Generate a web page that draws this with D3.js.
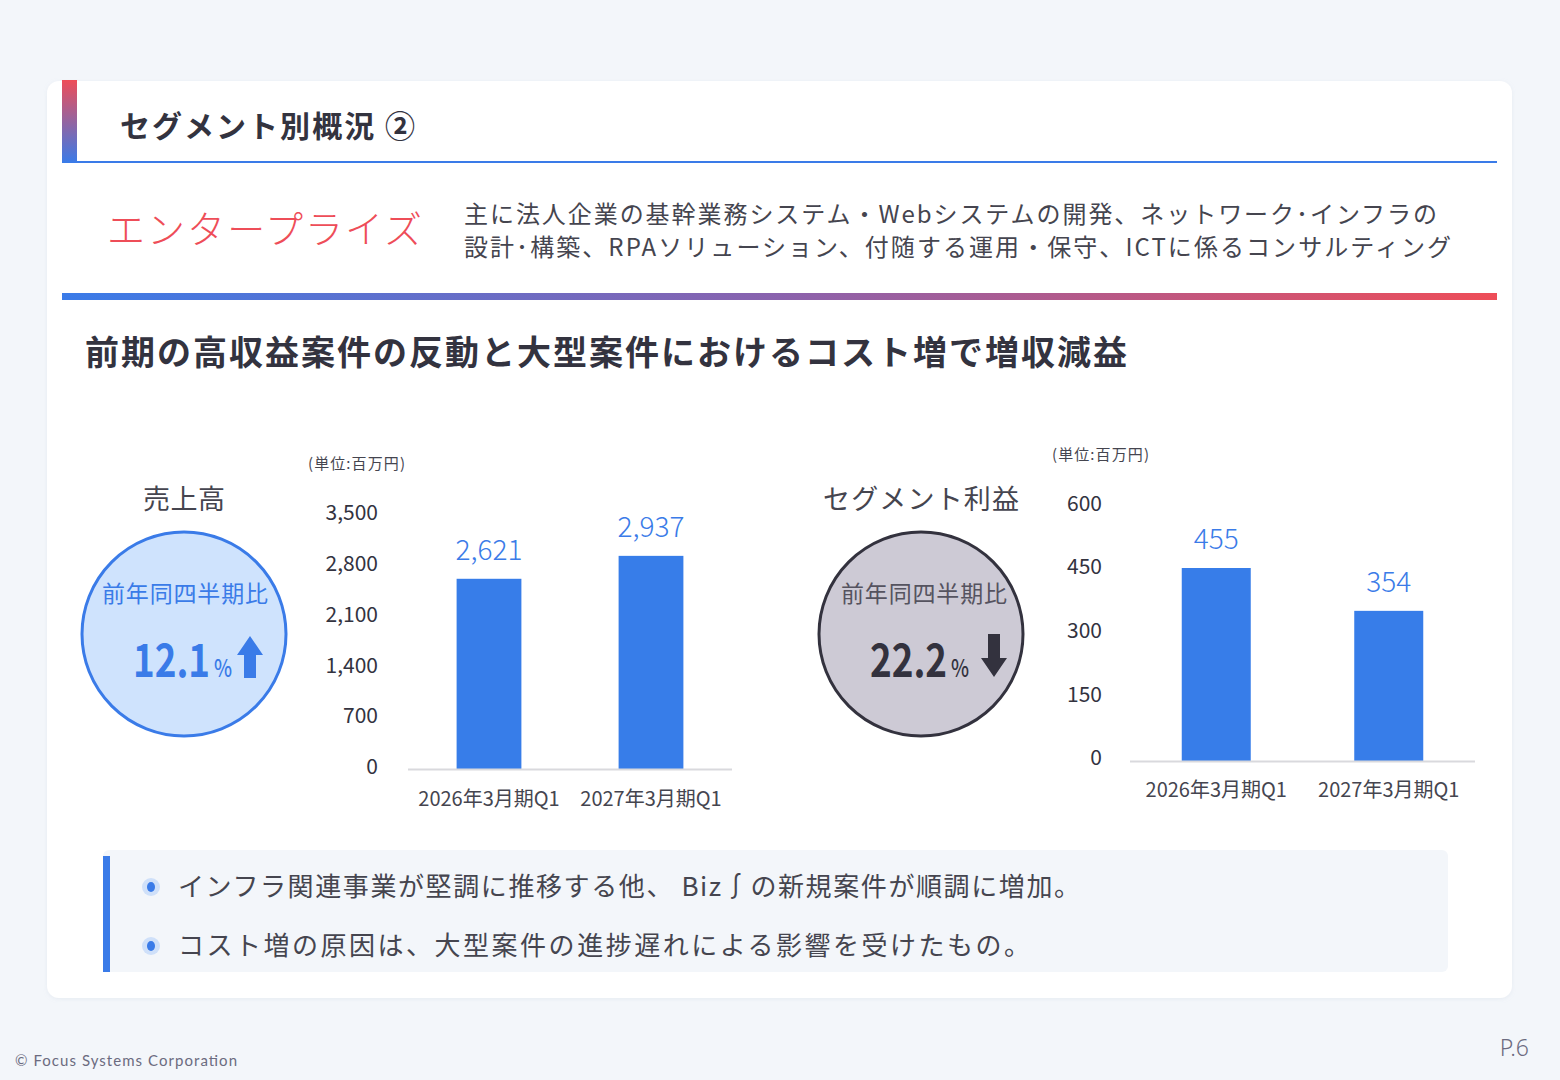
<!DOCTYPE html>
<html><head><meta charset="utf-8">
<script src="https://cdn.jsdelivr.net/npm/d3@7"></script>
<style>
html,body{margin:0;padding:0;background:#f3f6fa;}
svg{display:block;font-family:"Noto Sans CJK JP","Noto Sans",sans-serif;}
</style></head>
<body>
<svg id="c" width="1560" height="1080"></svg>
<script>
// ---- data ----
const categories = ["2026年3月期Q1", "2027年3月期Q1"];
const salesValues = [2621, 2937];
const salesTicks = [0, 700, 1400, 2100, 2800, 3500];
const profitValues = [455, 354];
const profitTicks = [0, 150, 300, 450, 600];
const salesChange = "12.1";
const profitChange = "22.2";
const descLines = [
  "主に法人企業の基幹業務システム・Webシステムの開発、ネットワーク･インフラの",
  "設計･構築、RPAソリューション、付随する運用・保守、ICTに係るコンサルティング"
];
const bullets = [
  "インフラ関連事業が堅調に推移する他、 Biz∫の新規案件が順調に増加。",
  "コスト増の原因は、大型案件の進捗遅れによる影響を受けたもの。"
];

const svg = d3.select("#c");
const defs = svg.append("defs");
const gv = defs.append("linearGradient").attr("id","gv").attr("x1",0).attr("y1",0).attr("x2",0).attr("y2",1);
gv.append("stop").attr("offset","0%").attr("stop-color","#ee4d58");
gv.append("stop").attr("offset","100%").attr("stop-color","#3a7be8");
const gh = defs.append("linearGradient").attr("id","gh").attr("x1",0).attr("y1",0).attr("x2",1).attr("y2",0);
gh.append("stop").attr("offset","0%").attr("stop-color","#3a7be8");
gh.append("stop").attr("offset","50%").attr("stop-color","#8a62ad");
gh.append("stop").attr("offset","100%").attr("stop-color","#ee4d58");
const sh = defs.append("filter").attr("id","sh").attr("x","-5%").attr("y","-5%").attr("width","110%").attr("height","110%");
sh.append("feDropShadow").attr("dx",0).attr("dy",1).attr("stdDeviation",2).attr("flood-color","#9aa8c0").attr("flood-opacity",0.15);

svg.append("rect").attr("width",1560).attr("height",1080).attr("fill","#f3f6fa");
// card
svg.append("rect").attr("x",47).attr("y",81).attr("width",1465).attr("height",917).attr("rx",12).attr("fill","#ffffff").attr("filter","url(#sh)");

// header
svg.append("rect").attr("x",62).attr("y",80).attr("width",15).attr("height",83).attr("fill","url(#gv)");
svg.append("rect").attr("x",62).attr("y",161).attr("width",1435).attr("height",2).attr("fill","#3a7be8");
svg.append("text").attr("x",120).attr("y",137).attr("font-size",30).attr("font-weight",700)
  .attr("fill","#33333f").attr("textLength",295).attr("lengthAdjust","spacing").text("セグメント別概況 ②");

// segment
svg.append("text").attr("x",107).attr("y",243).attr("font-size",38).attr("font-weight",300)
  .attr("fill","#ee4d58").attr("textLength",315).attr("lengthAdjust","spacing").text("エンタープライズ");
svg.selectAll("text.desc").data(descLines).join("text").attr("class","desc")
  .attr("x",464).attr("y",(d,i)=>223+i*33).attr("font-size",24).attr("fill","#45454f")
  .attr("textLength",(d,i)=>i===0?973:987).attr("lengthAdjust","spacing").text(d=>d);

svg.append("rect").attr("x",62).attr("y",293).attr("width",1435).attr("height",7).attr("fill","url(#gh)");

svg.append("text").attr("x",85).attr("y",365).attr("font-size",34).attr("font-weight",700)
  .attr("fill","#33333f").attr("textLength",1042).attr("lengthAdjust","spacing")
  .text("前期の高収益案件の反動と大型案件におけるコスト増で増収減益");

// ---- charts ----
function bubble(o){
  svg.append("text").attr("x",o.cx).attr("y",o.titleY).attr("text-anchor","middle").attr("font-size",27)
    .attr("fill","#45454f").attr("textLength",o.titleLen).attr("lengthAdjust","spacing").text(o.title);
  svg.append("circle").attr("cx",o.cx).attr("cy",634).attr("r",102).attr("fill",o.fill)
    .attr("stroke",o.stroke).attr("stroke-width",3);
  svg.append("text").attr("x",o.labelX).attr("y",602).attr("text-anchor","middle").attr("font-size",23)
    .attr("fill",o.labelColor).attr("textLength",166).attr("lengthAdjust","spacing").text("前年同四半期比");
  const t = svg.append("g").attr("transform",`translate(${o.numX},677) scale(${o.sx},1)`)
    .append("text").attr("x",0).attr("y",0).attr("fill",o.numColor).attr("font-weight",700);
  t.append("tspan").attr("font-size",46).text(o.value);
  t.append("tspan").attr("font-size",24).attr("font-weight",500).attr("dx",5).text("%");
  const ax = o.arrowX;
  if(o.up){
    svg.append("path").attr("fill",o.numColor)
      .attr("d",`M${ax},636 L${ax+13},655 L${ax+6},655 L${ax+6},678 L${ax-6},678 L${ax-6},655 L${ax-13},655 Z`);
  } else {
    svg.append("path").attr("fill",o.numColor)
      .attr("d",`M${ax},677 L${ax+13},658 L${ax+6},658 L${ax+6},634 L${ax-6},634 L${ax-6},658 L${ax-13},658 Z`);
  }
}

function barChart(o){
  const x = d3.scaleBand().domain(categories).range([o.x0,o.x1]).paddingInner(0.6).paddingOuter(0.3);
  const y = d3.scaleLinear().domain([0,o.max]).range([o.y0,o.yTop]);
  const g = svg.append("g");
  g.append("text").attr("x",o.unitX).attr("y",o.unitY).attr("font-size",15).attr("fill","#45454f")
    .attr("textLength",97).attr("lengthAdjust","spacing").text("(単位:百万円)");
  const yAxis = d3.axisLeft(y).tickValues(o.ticks).tickSize(0).tickPadding(0).tickFormat(d3.format(","));
  const ya = g.append("g").attr("transform",`translate(${o.labelX},${o.labelDy})`).call(yAxis);
  ya.select(".domain").remove();
  ya.selectAll("text").attr("font-size",21).attr("fill","#33333f").attr("font-family","'Noto Sans CJK JP',sans-serif");
  g.selectAll("rect.bar").data(o.values).join("rect").attr("class","bar")
    .attr("x",(d,i)=>x(categories[i])).attr("width",x.bandwidth())
    .attr("y",d=>y(d)).attr("height",d=>o.y0-y(d)).attr("fill","#377de9");
  g.append("line").attr("x1",o.x0).attr("x2",o.x1).attr("y1",o.y0+0.5).attr("y2",o.y0+0.5)
    .attr("stroke","#d9d9dd").attr("stroke-width",2);
  g.selectAll("text.val").data(o.values).join("text").attr("class","val")
    .attr("x",(d,i)=>x(categories[i])+x.bandwidth()/2).attr("y",d=>y(d)-19)
    .attr("text-anchor","middle").attr("font-size",28).attr("font-weight",300).attr("fill","#3a7be8").text(d=>d3.format(",")(d));
  const xAxis = d3.axisBottom(x).tickSize(0).tickPadding(0);
  const xa = g.append("g").attr("transform",`translate(0,${o.y0+o.xLabelDy})`).call(xAxis);
  xa.select(".domain").remove();
  xa.selectAll("text").attr("font-size",20).attr("fill","#45454f").attr("font-family","'Noto Sans CJK JP',sans-serif");
}

bubble({cx:184,titleY:509,title:"売上高",titleLen:82,fill:"#cfe3fd",stroke:"#3a7be8",labelColor:"#3a7be8",labelX:185,
  numColor:"#3a7be8",value:salesChange,numX:133,sx:0.8,arrowX:250,up:true});
bubble({cx:921,titleY:509,title:"セグメント利益",titleLen:196,fill:"#cdcad5",stroke:"#33323e",labelColor:"#55535f",labelX:924,
  numColor:"#33323e",value:profitChange,numX:870,sx:0.8,arrowX:994,up:false});

barChart({x0:408,x1:732,y0:769,yTop:515,max:3500,values:salesValues,ticks:salesTicks,
  labelX:378,labelDy:-2,unitX:308,unitY:469,xLabelDy:23});
barChart({x0:1130,x1:1475,y0:761,yTop:506.5,max:600,values:profitValues,ticks:profitTicks,
  labelX:1102,labelDy:-3,unitX:1052,unitY:460,xLabelDy:22});

// bottom box
svg.append("rect").attr("x",103).attr("y",850).attr("width",1345).attr("height",122).attr("rx",6).attr("fill","#f3f6fa");
svg.append("rect").attr("x",103).attr("y",856).attr("width",7).attr("height",116).attr("fill","#3a7be8");
bullets.forEach((b,i)=>{
  const cy = 887 + i*59;
  svg.append("circle").attr("cx",151).attr("cy",cy).attr("r",9).attr("fill","#cfe0f9");
  svg.append("ellipse").attr("cx",151).attr("cy",cy).attr("rx",4).attr("ry",5).attr("fill","#3a7be8");
  svg.append("text").attr("x",178).attr("y",cy+9).attr("font-size",26).attr("fill","#45454f")
    .attr("textLength",i===0?902:852).attr("lengthAdjust","spacing").text(b);
});

// footer
svg.append("text").attr("x",15).attr("y",1066).attr("font-size",15).attr("fill","#6b6b80")
  .attr("font-family","Lato,'Noto Sans',sans-serif").attr("textLength",222).attr("lengthAdjust","spacing").text("© Focus Systems Corporation");
svg.append("text").attr("x",1529).attr("y",1056).attr("text-anchor","end").attr("font-size",23).attr("font-weight",300).attr("fill","#6b6b80")
  .attr("font-family","'Noto Sans',sans-serif").text("P.6");
</script>
</body></html>
